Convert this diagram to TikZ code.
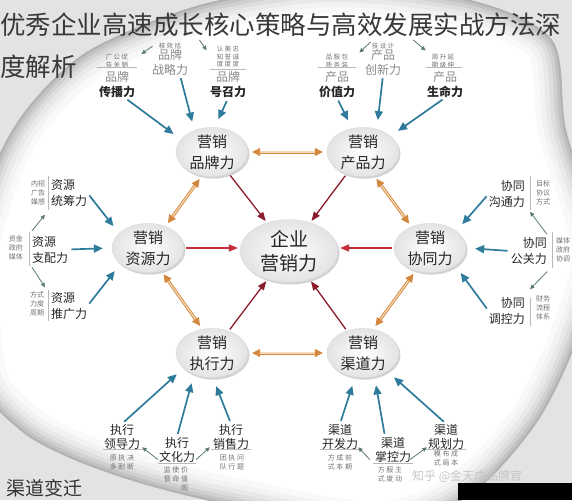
\documentclass[tikz,border=0pt]{standalone}
\usepackage{fontspec}
\setmainfont{Noto Sans CJK SC}
\usetikzlibrary{shapes.geometric,shadows,arrows.meta}
\definecolor{bluec}{HTML}{2E7B9C}
\definecolor{redc}{HTML}{C4303A}
\definecolor{maroonc}{HTML}{8C1C2C}
\definecolor{orc}{HTML}{D4883E}
\definecolor{orl}{HTML}{F5D9B8}
\definecolor{grarr}{HTML}{5A7A70}
\definecolor{gry}{HTML}{8A8A8A}
\begin{document}
\begin{tikzpicture}[x=1pt,y=-1pt,
  sat/.style={ellipse, minimum width=72pt, minimum height=48pt, inner sep=0pt,
    draw=gray!30, line width=0.3pt, inner color=white, outer color=gray!22,
    drop shadow={shadow xshift=1.5pt, shadow yshift=-2pt, opacity=0.35},
    align=center, text=black!85, font=\fontsize{15}{21}\selectfont},
  hub/.style={sat, minimum width=98pt, minimum height=63pt, font=\fontsize{19}{24}\selectfont},
  blu/.style={draw=bluec, line width=1.7pt, -{Triangle[length=9pt,width=8pt]}, shorten >=9pt, shorten <=3pt},
  rd/.style={draw=redc, line width=1.3pt, -{Triangle[length=9pt,width=7pt]}, shorten >=2pt, shorten <=2pt},
  mr/.style={rd, draw=maroonc},
  og/.style={draw=orc, double=orl, double distance=1.2pt, line width=0.9pt,
    {Triangle[length=8pt,width=8pt]}-{Triangle[length=8pt,width=8pt]}, shorten >=4pt, shorten <=4pt},
  gar/.style={draw=grarr, line width=0.8pt, -{Triangle[length=4.5pt,width=4pt]}},
  sep/.style={draw=gray!55, line width=0.5pt},
  lab/.style={align=center, inner sep=0pt, text=black!85, font=\fontsize{12}{15}\selectfont},
  labl/.style={lab, align=left, anchor=west, font=\fontsize{12}{16}\selectfont},
  labr/.style={lab, align=right, anchor=east, font=\fontsize{12}{16}\selectfont},
  labb/.style={lab, font=\fontsize{12}{14}\selectfont},
  sml/.style={align=center, inner sep=0pt, text=black!55, font=\fontsize{6.5}{7.5}\selectfont},
  smlb/.style={sml, font=\fontsize{7}{9}\selectfont}
]
\useasboundingbox (0,0) rectangle (572,500);
% background
\fill[gray!22] (0,0) rectangle (572,500);
\begin{scope}
  \clip plot[smooth cycle] coordinates {(-30,260) (-5,165) (30,105) (90,50) (200,5) (330,-15) (470,0) (552,40) (566,130) (600,250) (575,345) (535,425) (470,495) (380,530) (230,505) (140,483) (70,458) (20,430) (-20,380)};
  \fill[white] (0,0) rectangle (572,500);
  \foreach \w/\c in {56/5, 44/10, 34/17, 25/26, 17/37, 10/48, 4/60}
    \draw[line width=\w pt, gray!\c] plot[smooth cycle] coordinates {(-30,260) (-5,165) (30,105) (90,50) (200,5) (330,-15) (470,0) (552,40) (566,130) (600,250) (575,345) (535,425) (470,495) (380,530) (230,505) (140,483) (70,458) (20,430) (-20,380)};
\end{scope}

% main ellipses
\node[sat] (pb) at (212,152) {营销\\品牌力};
\node[sat] (cp) at (363,152) {营销\\产品力};
\node[sat] (zy) at (148,248) {营销\\资源力};
\node[sat] (xt) at (430,248) {营销\\协同力};
\node[sat] (zx) at (212,353) {营销\\执行力};
\node[sat] (qd) at (363,353) {营销\\渠道力};
\node[hub] (qy) at (289,251) {企业\\营销力};

% red arrows into the hub
\draw[mr] (pb) -- (qy);
\draw[mr] (cp) -- (qy);
\draw[rd] (zy.east) -- (zy.east -| qy.west);
\draw[rd] (xt.west) -- (xt.west -| qy.east);
\draw[mr] (zx) -- (qy);
\draw[mr] (qd) -- (qy);

% orange double arrows
\draw[og] (pb.east) -- (cp.west);
\draw[og] (pb.247) -- (zy.51);
\draw[og] (cp.295) -- (xt.131);
\draw[og] (zy.300) -- (zx.112);
\draw[og] (xt.238) -- (qd.67);
\draw[og] (zx.east) -- (qd.west);

% top-left labels
\node[sml] (tl1s) at (117,61) {广 公 促\\告 关 销};
\draw[sep] (97,67.5) -- (137,67.5);
\node[lab] (tl1) at (117,84.5) {\textcolor{gry}{品牌}\\\textbf{传播力}};
\node[sml] (tl2s) at (170,46) {核 效 括};
\node[lab, text=gry] (tl2) at (170,62) {品牌\\战略力};
\node[sml] (tl3s) at (228,57) {认 美 忠\\知 誉 诚\\度 度 度};
\draw[sep] (210,69.5) -- (246,69.5);
\node[lab] (tl3) at (228,85) {\textcolor{gry}{品牌}\\\textbf{号召力}};
\draw[gar] ([xshift=-6pt]tl2s.west) -- ([xshift=13pt]tl1s.north east);
\draw[gar] ([xshift=18pt,yshift=6pt]tl2s.east) -- ([xshift=-10pt,yshift=-4pt]tl3s.north west);

% top-right labels
\node[sml] (tr1s) at (337,61) {品 服 包\\质 务 装};
\draw[sep] (318,67.5) -- (356,67.5);
\node[lab] (tr1) at (337,84.5) {\textcolor{gry}{产品}\\\textbf{价值力}};
\node[sml] (tr2s) at (383,46) {技 设 计};
\node[lab, text=gry] (tr2) at (383,62) {产品\\创新力};
\node[sml] (tr3s) at (443,61) {周 升 延\\期 级 伸};
\draw[sep] (426,67.5) -- (462,67.5);
\node[lab] (tr3) at (445,84.5) {\textcolor{gry}{产品}\\\textbf{生命力}};
\draw[gar] ([xshift=-1pt,yshift=4pt]tr2s.west) -- ([xshift=11pt,yshift=1.5pt]tr1s.north east);
\draw[gar] ([xshift=19pt,yshift=6pt]tr2s.east) -- ([xshift=-6pt,yshift=3.5pt]tr3s.north west);

% left labels
\node[smlb] (l1s) at (38,192.5) {内招\\广告\\媒感};
\draw[sep] (48,176) -- (48,210);
\node[labl] (l1) at (51,193) {资源\\统筹力};
\node[smlb] (l2s) at (16,248) {资金\\政府\\媒体};
\draw[sep] (29,232) -- (29,266);
\node[labl] (l2) at (32,249.5) {资源\\支配力};
\node[smlb] (l3s) at (37,304) {方式\\力度\\周期};
\draw[sep] (48,290) -- (48,321);
\node[labl] (l3) at (51,306) {资源\\推广力};
\draw[gar] ([yshift=5pt]l2.north west) -- ([xshift=-6pt,yshift=-8pt]l1.south west);
\draw[gar] ([yshift=-4pt]l2.south west) -- ([xshift=-6pt,yshift=5pt]l3.north west);

% right labels
\node[labr] (r1) at (525,194) {协同\\沟通力};
\draw[sep] (530,176) -- (530,210);
\node[smlb] (r1s) at (543,193) {目标\\协议\\方式};
\node[labr] (r2) at (547,251) {协同\\公关力};
\draw[sep] (552,232) -- (552,268);
\node[smlb] (r2s) at (563,250) {媒体\\政府\\协调};
\node[labr] (r3) at (525,311) {协同\\调控力};
\draw[sep] (530,298) -- (530,326);
\node[smlb] (r3s) at (543,308) {财务\\流程\\体系};
\draw[gar] ([yshift=3pt]r2.north east) -- ([xshift=5pt,yshift=-4pt]r1.south east);
\draw[gar] ([yshift=-7pt]r2.south east) -- ([xshift=5pt,yshift=8pt]r3.north east);

% bottom-left labels
\node[labb] (b1) at (122,436.5) {执行\\领导力};
\draw[sep] (103,449.5) -- (143,449.5);
\node[smlb] (b1s) at (122,462.5) {原 执 决\\多 耐 断};
\node[labb] (b2) at (177,449.5) {执行\\文化力};
\draw[sep] (158,463.5) -- (196,463.5);
\node[smlb, align=left] (b2s) at (176,478.5) {监 使 价\\督 命 值\\\hphantom{监 使 }观};
\node[labb] (b3) at (231,436.5) {执行\\销售力};
\draw[sep] (211,449.5) -- (251,449.5);
\node[smlb] (b3s) at (232,462.5) {团 执 问\\队 行 题};
\draw[gar] ([xshift=-1pt,yshift=-10pt]b2.west) -- ([xshift=2pt,yshift=2pt]b1.south east);
\draw[gar] ([xshift=1pt,yshift=-10pt]b2.east) -- ([xshift=-3pt,yshift=2pt]b3.south west);

% bottom-right labels
\node[labb] (c1) at (340,436.5) {渠道\\开发力};
\draw[sep] (320,449.5) -- (359,449.5);
\node[smlb] (c1s) at (340,462.5) {方 成 前\\式 本 期};
\node[labb] (c2) at (393,449.5) {渠道\\掌控力};
\draw[sep] (373,463.5) -- (413,463.5);
\node[smlb] (c2s) at (390,474.5) {方 服 主\\式 度 动};
\node[labb] (c3) at (446,436.5) {渠道\\规划力};
\draw[sep] (425,449.5) -- (466,449.5);
\node[smlb] (c3s) at (446,458.5) {模 布 成\\式 局 本};
\draw[gar] ([xshift=-5pt,yshift=-10pt]c2.west) -- ([yshift=2pt]c1.south east);
\draw[gar] ([xshift=-1pt,yshift=-10pt]c2.east) -- ([xshift=-1pt,yshift=2pt]c3.south west);

% blue arrows
\draw[blu] ([xshift=8pt]tl1.south) -- (pb.158);
\draw[blu] ([xshift=10pt]tl2.south) -- (pb.129);
\draw[blu] (tl3.south) -- (pb.84);
\draw[blu] (tr1.south) -- (cp.115);
\draw[blu] (tr2.south) -- (cp.59);
\draw[blu] (tr3.south) -- (cp.30);
\draw[blu] (l1.east) -- (zy.153);
\draw[blu] (l2.east) -- (zy.180);
\draw[blu] (l3.east) -- (zy.210);
\draw[blu] (r1.west) -- (xt.33);
\draw[blu] (r2.west) -- (xt.0);
\draw[blu] (r3.west) -- (xt.325);
\draw[blu] (b1.north) -- (zx.208);
\draw[blu] (b2.north) -- (zx.230);
\draw[blu] (b3.north) -- (zx.272);
\draw[blu] (c1.north) -- (qd.252);
\draw[blu] ([xshift=-8pt]c2.north) -- (qd.296);
\draw[blu] (c3.north) -- (qd.323);

% overlays
\node[anchor=west, inner sep=0pt, text=black!78, font=\fontsize{25.5}{30}\selectfont] (t1) at (0,25) {优秀企业高速成长核心策略与高效发展实战方法深};
\node[anchor=west, inner sep=0pt, text=black!78, font=\fontsize{25.5}{30}\selectfont] (t2) at (0,67) {度解析};
\node[anchor=west, inner sep=0pt, text=black!80, font=\fontsize{19}{22}\selectfont] (qb) at (6,488) {渠道变迁};
\node[anchor=west, inner sep=0pt, text=gray!45, font=\fontsize{12}{14}\selectfont] (wm) at (412,476.5) {知乎 @金天成品牌官};
\fill[black] (458,483) rectangle (572,500);
\end{tikzpicture}
\end{document}
